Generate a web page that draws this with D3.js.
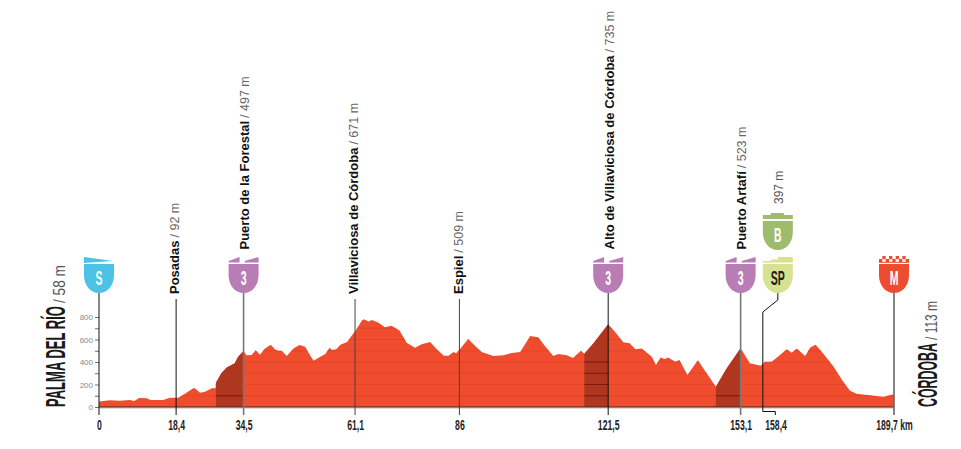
<!DOCTYPE html>
<html>
<head>
<meta charset="utf-8">
<script src="https://cdn.jsdelivr.net/npm/d3@7"></script>
<style>
  html, body { margin: 0; padding: 0; background: #fff; }
  svg { display: block; }
  .tick text { font-family: "Liberation Sans", sans-serif; }
</style>
</head>
<body>
<div id="chart"></div>
<script>
// profile
const profileKm = [0, 2.6, 5, 7.4, 8.4, 9.6, 11.4, 12.3, 15.3, 16.9, 18.9, 20.3, 22.5, 22.9, 24.1, 25.3, 26.9, 27.8,
  27.9, 29.2, 30.4, 31.6, 32.4, 33.2, 34.5, 35.2, 36.4, 37.4, 38.4, 39.6, 41, 42, 42.8, 43.6, 44.8, 46.4, 47.8, 49.2, 50, 51.2,
  52.8, 54, 55, 55.6, 56.6, 57.6, 59.2, 60.4, 61.1, 62.7, 63.2, 64.3, 65.1, 66.7, 68.2, 69.8, 71.7, 73.4, 75.4, 77, 79, 80.6,
  82.3, 83.4, 84.6, 85.2, 86, 88.1, 89.3, 91.3, 94.1, 96.5, 98.5, 100.5, 102.9, 104.8, 106.4, 108.4, 109.6, 111.6, 113.1, 115, 115.8,
  118, 121.5, 123.1, 125.1, 126.6, 128, 129.5, 131.9, 132.9, 134, 135, 135.8, 137.5, 138.5, 140.4, 142.9, 145, 147.2,
  149.8, 153.1, 155.3, 157.9, 158.9, 160.5, 162.5, 164.1, 165.3, 166.5, 168.5, 169.7, 171, 172.9, 175.3, 177.3, 179.2, 180.8, 184.8, 187.2, 189.7];
const profileElev = [50, 59, 56, 62, 53, 80, 77, 62, 62, 83, 83, 113, 166, 166, 127, 136, 166, 166,
  216, 299, 350, 373, 388, 447, 497, 459, 462, 504, 465, 521, 554, 512, 500, 500, 453, 521, 551, 536, 483, 412,
  447, 471, 527, 507, 513, 554, 578, 640, 671, 767, 779, 761, 773, 750, 708, 723, 679, 572, 527, 557, 578, 513,
  456, 456, 489, 477, 509, 604, 560, 489, 453, 459, 480, 489, 631, 619, 542, 453, 471, 459, 436, 501, 474,
  566, 735, 670, 575, 566, 513, 519, 447, 373, 441, 427, 439, 403, 418, 284, 415, 299, 181,
  344, 523, 390, 367, 403, 403, 462, 513, 483, 521, 453, 530, 554, 471, 358, 240, 145, 118, 101, 92, 113];

// waypoints
const pointKm = [0, 18.4, 34.5, 61.1, 86, 121.5, 153.1, 158.4, 189.7];
const pointLabels = ["0", "18,4", "34,5", "61,1", "86", "121,5", "153,1", "158,4", "189,7 km"];
const pointNames = ["", "Posadas", "Puerto de la Forestal", "Villaviciosa de Córdoba", "Espiel", "Alto de Villaviciosa de Córdoba", "Puerto Artafí", "", ""];
const pointHeights = ["", "/ 92 m", "/ 497 m", "/ 671 m", "/ 509 m", "/ 735 m", "/ 523 m", "397 m", ""];
const pointBadges = ["S", "", "3", "", "", "3", "3", "SP", "M"];

// climbs
const climbStart = [27.9, 115.8, 147.2];
const climbEnd = [34.5, 121.5, 153.1];
const climbLines = [[100], [100, 200, 300, 400], [100]];

const elevTicks = [0, 100, 200, 300, 400, 500, 600, 700, 800];

const width = 961, height = 449;
const x = d3.scaleLinear().domain([0, 189.7]).range([99, 894]);
const y = d3.scaleLinear().domain([0, 800]).range([407, 317]);

const badgeColor = { S: "#4cc3e6", "3": "#b97db6", B: "#9fbb6c", SP: "#d6e28f", M: "#ee4c2e" };
const lineColor = ["#111", "#111", "#777", "#444", "#444", "#111", "#777", "#111", "#666"];
const sans = '"Liberation Sans", sans-serif';
const fill = "#f04c2e", dark = "#b0371f";

const svg = d3.select("#chart").append("svg").attr("width", width).attr("height", height);
const profile = profileKm.map((km, i) => ({ km, elev: profileElev[i] }));

const area = d3.area().x(d => x(d.km)).y0(y(0)).y1(d => y(d.elev));

svg.append("clipPath").attr("id", "profile-clip").append("path").attr("d", area(profile));

svg.append("path").attr("d", area(profile)).attr("fill", fill);

// grid inside the profile
svg.append("g").attr("clip-path", "url(#profile-clip)")
  .selectAll("line").data(elevTicks.slice(1)).join("line")
  .attr("x1", x(0)).attr("x2", x(189.7))
  .attr("y1", d => y(d)).attr("y2", d => y(d))
  .attr("stroke", "#dc4226").attr("stroke-width", 0.7);

// climbs
climbStart.forEach((start, i) => {
  svg.append("clipPath").attr("id", "climb-" + i).append("rect")
    .attr("x", x(start)).attr("width", x(climbEnd[i]) - x(start))
    .attr("y", 300).attr("height", 107);
  svg.append("path").attr("d", area(profile)).attr("fill", dark).attr("clip-path", `url(#climb-${i})`);
  svg.append("g").selectAll("line").data(climbLines[i]).join("line")
    .attr("x1", x(start)).attr("x2", x(climbEnd[i]))
    .attr("y1", d => y(d)).attr("y2", d => y(d))
    .attr("stroke", "#7c1712").attr("stroke-width", 1);
});

// left axis
const yAxis = d3.axisLeft(y).tickValues(elevTicks).tickSize(4).tickPadding(2)
  .tickFormat(d => d % 200 === 0 ? d : "");
const yG = svg.append("g").attr("transform", `translate(${x(0)},0)`).call(yAxis);
yG.select(".domain").remove();
yG.selectAll(".tick line").attr("stroke", "#333").attr("stroke-width", 0.7);
yG.selectAll(".tick text").attr("fill", "#8a8a8a").style("font-size", "8px");

// baseline
svg.append("line").attr("x1", x(0)).attr("x2", x(189.7)).attr("y1", y(0) + 1).attr("y2", y(0) + 1)
  .attr("stroke", "#c4b5b0").attr("stroke-width", 1);
svg.append("line").attr("x1", x(0)).attr("x2", x(189.7)).attr("y1", y(0)).attr("y2", y(0))
  .attr("stroke", "#3a2a26").attr("stroke-width", 1);

// bottom axis, labels squeezed because there is no condensed font
const squeeze = 0.62;
const xAxis = d3.axisBottom(x).tickValues(pointKm).tickSize(0).tickPadding(0)
  .tickFormat((d, i) => pointLabels[i]);
const xG = svg.append("g").attr("transform", `translate(0,${y(0)})`).call(xAxis);
xG.select(".domain").remove();
xG.selectAll(".tick text")
  .attr("y", 23).attr("dy", 0).attr("fill", "#222")
  .style("font-size", "14px").style("font-weight", "bold")
  .attr("text-anchor", "middle")
  .attr("transform", (d, i) => `translate(${pointBadges[i] === "SP" ? 12.7 : 0},0) scale(${squeeze},1)`);

// shield outline, top is where the body starts
function shield(cx, top) {
  const l = cx - 15, r = cx + 15, b = top + 29;
  return `M${l},${top}H${r}V${top + 11}C${r},${top + 21} ${cx + 9},${b} ${cx},${b}C${cx - 9},${b} ${l},${top + 21} ${l},${top + 11}Z`;
}

function drawBadge(kind, cx, top) {
  const g = svg.append("g");
  const c = badgeColor[kind];
  g.append("path").attr("d", shield(cx, top)).attr("fill", c);
  if (kind === "S") {
    g.append("path").attr("d", `M${cx - 15},${top - 7}L${cx + 14},${top - 3}L${cx - 15},${top - 1}Z`).attr("fill", c);
  } else if (kind === "3") {
    g.append("path").attr("d", `M${cx - 15},${top - 1.5}V${top - 3}L${cx - 4},${top - 7}V${top - 1.5}Z`).attr("fill", c);
    g.append("path").attr("d", `M${cx + 1},${top - 1.5}V${top - 3}L${cx + 15},${top - 7}V${top - 1.5}Z`).attr("fill", c);
  } else if (kind === "SP") {
    g.append("path").attr("d", `M${cx - 15},${top - 1.5}V${top - 3}H${cx - 7}V${top - 4.5}H${cx}V${top - 7}H${cx + 15}V${top - 1.5}Z`).attr("fill", c);
  } else if (kind === "B") {
    g.append("path").attr("d", `M${cx - 15},${top - 2}V${top - 6}H${cx - 7}V${top - 8}H${cx + 6}V${top - 6}H${cx + 15}V${top - 2}Z`).attr("fill", c);
  } else if (kind === "M") {
    const cell = 30 / 9;
    d3.range(9).forEach(k => {
      g.append("rect").attr("x", cx - 15 + k * cell).attr("width", cell)
        .attr("y", k % 2 ? top - 8 : top - 5).attr("height", 3.2).attr("fill", c);
    });
    g.append("rect").attr("x", cx - 15).attr("width", 30).attr("y", top - 2.2).attr("height", 1).attr("fill", c);
  }
  g.append("text").attr("transform", `translate(${cx},${top + 21}) scale(0.5,1)`).attr("text-anchor", "middle")
    .attr("font-family", sans).attr("font-weight", "bold").attr("font-size", 21)
    .attr("fill", kind === "SP" ? "#1c1c14" : "#fff").text(kind);
}

// vertical lines, names and badges
pointKm.forEach((km, i) => {
  const px = x(km);
  const badge = pointBadges[i];
  const stroke = lineColor[i];
  if (badge === "SP") {
    const bx = px + 15;
    svg.append("path")
      .attr("d", `M${bx},293V300L${px},312V411.5H${px + 12.5}V415`)
      .attr("fill", "none").attr("stroke", "#111").attr("stroke-width", 1);
    drawBadge("SP", bx, 264);
    drawBadge("B", bx, 221);
    svg.append("text").attr("transform", `translate(${bx + 4.7},204) rotate(-90)`)
      .attr("font-family", sans).attr("font-size", 12).attr("fill", "#555")
      .text(pointHeights[i]);
    return;
  }
  svg.append("line").attr("x1", px).attr("x2", px)
    .attr("y1", badge ? 293 : 299).attr("y2", 415)
    .attr("stroke", stroke).attr("stroke-width", stroke === "#777" || stroke === "#666" ? 1.6 : 1);
  if (badge) drawBadge(badge, px, 264);
  if (pointNames[i]) {
    const t = svg.append("text")
      .attr("transform", `translate(${px + (badge ? 5.5 : 3.2)},${badge ? 249.5 : 294}) rotate(-90)`)
      .attr("font-family", sans).attr("font-size", 13);
    t.append("tspan").attr("font-weight", "bold").attr("fill", "#111").text(pointNames[i]);
    t.append("tspan").attr("fill", "#666").attr("dx", 3).attr("font-size", 12.5).text(pointHeights[i]);
  }
});

// start and finish names
function townLabel(xPos, name, bottom, nameLen, heightText, heightLen) {
  svg.append("text").attr("transform", `translate(${xPos},${bottom}) rotate(-90)`)
    .attr("font-family", sans).attr("font-weight", "bold").attr("font-size", 28).attr("fill", "#1a1a1a")
    .attr("textLength", nameLen).attr("lengthAdjust", "spacingAndGlyphs").text(name);
  svg.append("text").attr("transform", `translate(${xPos},${bottom - nameLen - 3}) rotate(-90)`)
    .attr("font-family", sans).attr("font-size", 17).attr("fill", "#555")
    .attr("textLength", heightLen).attr("lengthAdjust", "spacingAndGlyphs").text(heightText);
}
townLabel(65, "PALMA DEL RÍO", 407, 101, "/ 58 m", 38);
townLabel(937, "CÓRDOBA", 407, 64, "/ 113 m", 39);
</script>
</body>
</html>
